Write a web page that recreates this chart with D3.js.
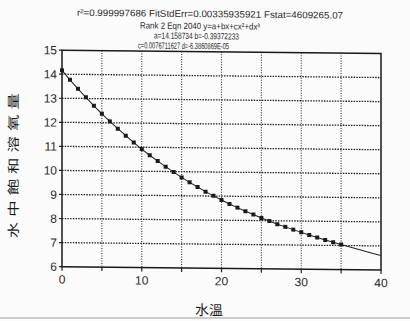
<!DOCTYPE html>
<html>
<head>
<meta charset="utf-8">
<script src="https://cdn.jsdelivr.net/npm/d3@7"></script>
<style>
  html, body { margin: 0; padding: 0; background: #fbfbfb; }
  svg { display: block; }
  .num { font-family: "Liberation Sans", Arial, sans-serif; fill: #2a2a2a; }
  .cjk { font-family: "Noto Sans CJK TC", "Noto Sans CJK SC", sans-serif; fill: #1a1a1a; }
</style>
</head>
<body>
<svg id="chart" width="410" height="321"></svg>
<script>
// water temperature (deg C) and saturated dissolved oxygen (mg/L)
const temps = [0,1,2,3,4,5,6,7,8,9,10,11,12,13,14,15,16,17,18,19,20,21,22,23,24,25,26,27,28,29,30,31,32,33,34,35];
const oxygen = [14.16,13.77,13.40,13.05,12.70,12.37,12.06,11.76,11.47,11.19,10.92,10.67,10.43,10.20,9.98,9.76,
                9.56,9.37,9.18,9.01,8.84,8.68,8.53,8.38,8.25,8.11,7.99,7.86,7.75,7.64,7.53,7.42,7.32,7.22,7.13,7.04];
// fitted curve continues past the last sample
const fitTemps = [35,36,37,38,39,40];
const fitOxygen = [7.04,6.95,6.86,6.77,6.68,6.60];

const xTicks = [0,10,20,30,40];
const xMinor = [0,5,10,15,20,25,30,35,40];
const yTicks = [6,7,8,9,10,11,12,13,14,15];

const titleLines = [
    "r²=0.999997686  FitStdErr=0.00335935921  Fstat=4609265.07",
    "Rank 2  Eqn 2040  y=a+bx+cx²+dx³",
    "a=14.158734 b=-0.39372233",
    "c=0.0076711627 d=-6.3860869E-05"
];
const yLabel = "水中飽和溶氧量";
const xLabel = "水溫";

const svg = d3.select("#chart");
const plotL = 62, plotR = 381, plotT = 49.5, plotB = 266;

const x = d3.scaleLinear().domain([0, 40]).range([plotL, plotR]);
const y = d3.scaleLinear().domain([6, 15]).range([plotB, plotT]);

// the scan is slightly tilted
const g = svg.append("g").attr("transform", "skewY(0.6)");

// grid
g.append("g").selectAll("line")
    .data(yTicks.slice(1, -1)).enter().append("line")
    .attr("x1", plotL).attr("x2", plotR)
    .attr("y1", d => y(d)).attr("y2", d => y(d))
    .attr("stroke", "#222").attr("stroke-width", 1.3)
    .attr("stroke-dasharray", "1.5,1.2");

g.append("g").selectAll("line")
    .data(xMinor.slice(1, -1)).enter().append("line")
    .attr("x1", d => x(d)).attr("x2", d => x(d))
    .attr("y1", plotT).attr("y2", plotB)
    .attr("stroke", "#333").attr("stroke-width", 1.1)
    .attr("stroke-dasharray", "1,1.5");

// frame
g.append("rect")
    .attr("x", plotL).attr("y", plotT)
    .attr("width", plotR - plotL).attr("height", plotB - plotT)
    .attr("fill", "none").attr("stroke", "#1a1a1a").attr("stroke-width", 1.5);

// ticks
g.append("g").selectAll("line")
    .data(xMinor).enter().append("line")
    .attr("x1", d => x(d)).attr("x2", d => x(d))
    .attr("y1", plotB).attr("y2", plotB + 4)
    .attr("stroke", "#222").attr("stroke-width", 1.2);

g.append("g").selectAll("line")
    .data(yTicks).enter().append("line")
    .attr("x1", plotL - 3).attr("x2", plotL)
    .attr("y1", d => y(d)).attr("y2", d => y(d))
    .attr("stroke", "#222").attr("stroke-width", 1.2);

// tick labels
g.append("g").selectAll("text")
    .data(yTicks).enter().append("text").attr("class", "num")
    .attr("x", plotL - 5).attr("y", d => y(d)).attr("dy", "0.36em")
    .attr("text-anchor", "end").attr("font-size", 12)
    .text(d => d);

g.append("g").selectAll("text")
    .data(xTicks).enter().append("text").attr("class", "num")
    .attr("x", d => x(d)).attr("y", plotB + 17)
    .attr("text-anchor", "middle").attr("font-size", 12)
    .text(d => d);

// fitted line and samples
const line = d3.line().x(d => x(d[0])).y(d => y(d[1]));
const fitPts = temps.map((t, i) => [t, oxygen[i]]).concat(fitTemps.slice(1).map((t, i) => [t, fitOxygen[i + 1]]));
g.append("path")
    .attr("d", line(fitPts))
    .attr("fill", "none").attr("stroke", "#222").attr("stroke-width", 1);

g.append("g").selectAll("rect")
    .data(temps).enter().append("rect")
    .attr("x", d => x(d) - 2).attr("y", (d, i) => y(oxygen[i]) - 2)
    .attr("width", 4).attr("height", 4)
    .attr("fill", "#1a1a1a");

// header
const titleY = [15, 27, 37, 47];
const titleW = [266, 120, 85, 91];
g.append("g").selectAll("text")
    .data(titleLines).enter().append("text").attr("class", "num")
    .attr("x", (d, i) => [210, 200, 196.5, 183.5][i])
    .attr("y", (d, i) => titleY[i])
    .attr("text-anchor", "middle").attr("font-size", (d, i) => i === 0 ? 9.5 : 9)
    .attr("textLength", (d, i) => titleW[i]).attr("lengthAdjust", "spacingAndGlyphs")
    .text(d => d);

// axis titles
g.append("text").attr("class", "cjk")
    .attr("transform", "translate(18,163) rotate(-90) scale(1.3,1)")
    .attr("text-anchor", "middle").attr("font-size", 12.5)
    .attr("letter-spacing", 4)
    .text(yLabel);

g.append("text").attr("class", "cjk")
    .attr("x", 209).attr("y", 313)
    .attr("text-anchor", "middle").attr("font-size", 14)
    .text(xLabel);

// scan edge at the bottom
svg.append("line")
    .attr("x1", 0).attr("x2", 410).attr("y1", 318).attr("y2", 318)
    .attr("stroke", "#bbb").attr("stroke-width", 1.5);
</script>
</body>
</html>
